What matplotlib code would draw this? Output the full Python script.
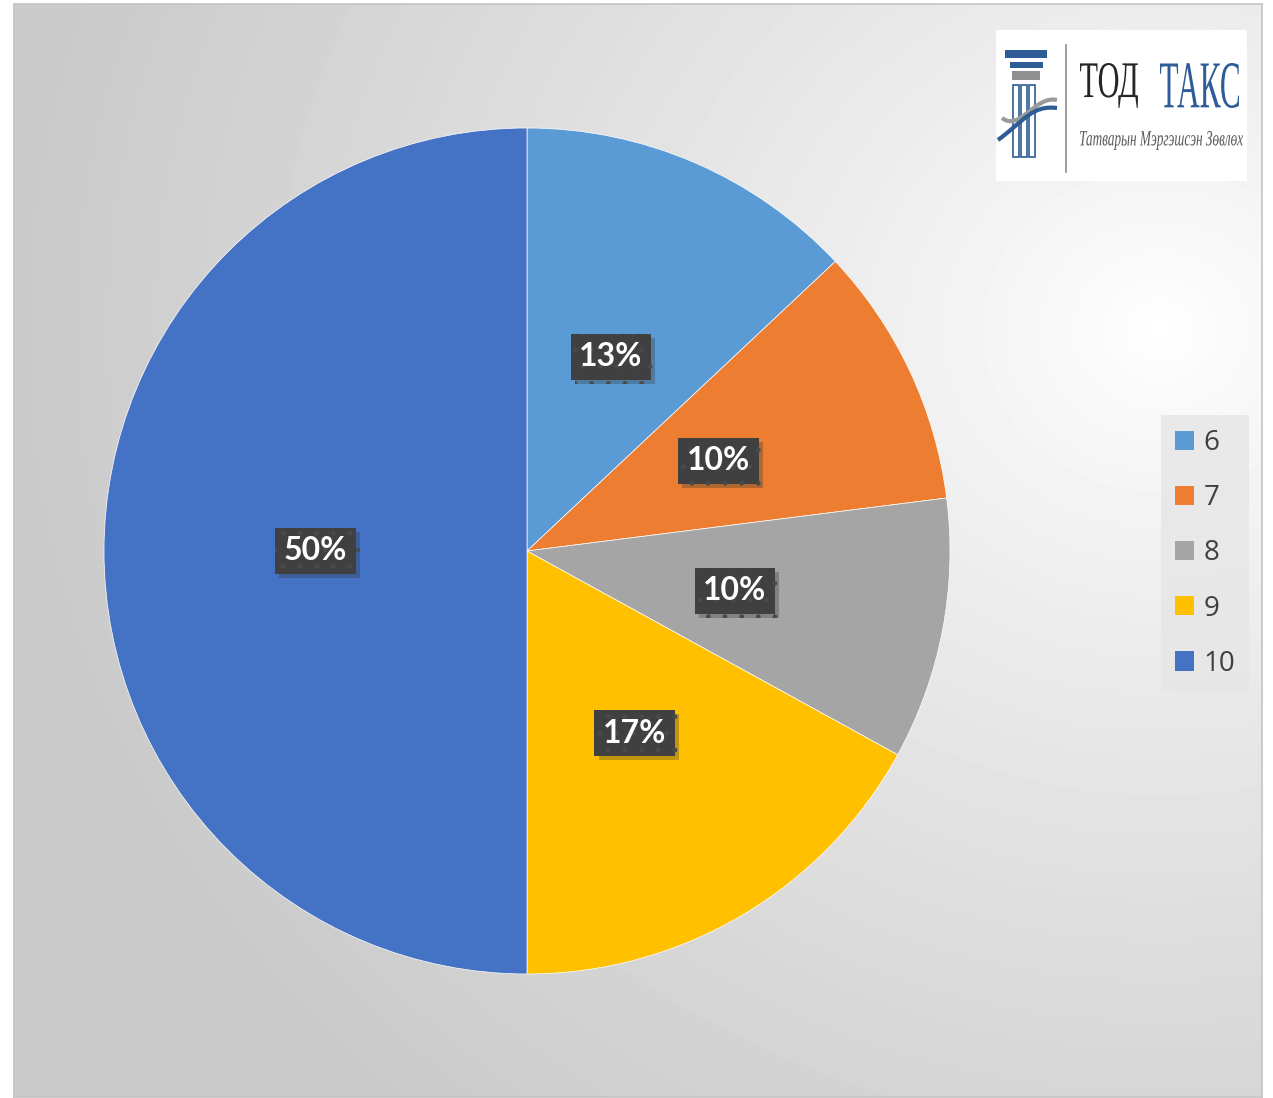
import matplotlib

matplotlib.use("Agg")
import matplotlib.pyplot as plt
import matplotlib.patheffects as pe
import numpy as np
from matplotlib.font_manager import FontProperties
from matplotlib.patches import PathPatch, Rectangle
from matplotlib.path import Path
from matplotlib.textpath import TextPath
from matplotlib.transforms import Affine2D

# data (percent shares)
categories = ["6", "7", "8", "9", "10"]
shares = [13, 10, 10, 17, 50]
colors = ["#5B9BD5", "#ED7D31", "#A5A5A5", "#FFC000", "#4472C4"]

logo_main = ["ТОД", "ТАКС"]
logo_sub = "Татварын Мэргэшсэн Зөвлөх"

W, H = 1273, 1098
fig = plt.figure(figsize=(W / 100, H / 100), dpi=100)
fig.patch.set_facecolor("white")


def fig_rect(x0, y0, x1, y1):
    """pixel box (top-left origin) -> figure fraction rect"""
    return [x0 / W, 1 - y1 / H, (x1 - x0) / W, (y1 - y0) / H]


# --- background with radial gradient ---
bx0, by0, bx1, by1 = 14, 4, 1262, 1097
bg = fig.add_axes(fig_rect(bx0, by0, bx1, by1))
yy, xx = np.mgrid[by0:by1, bx0:bx1]
dist = np.hypot((xx - 1160) * 1.0, (yy - 330) * 1.1)
t = np.clip(dist / 1150, 0, 1) ** 0.85
grey = 1 - t * (1 - 0.79)
bg.imshow(grey, cmap="gray", vmin=0, vmax=1, aspect="auto", interpolation="bilinear")
bg.set_xticks([])
bg.set_yticks([])
for s in bg.spines.values():
    s.set_color("#c4c4c4")
    s.set_linewidth(1.2)

# --- pie ---
cx, cy, r = 527, 551, 423
ax = fig.add_axes(fig_rect(cx - r, cy - r, cx + r, cy + r))
ax.set_facecolor("none")
wedges, texts, autotexts = ax.pie(
    shares,
    colors=colors,
    startangle=90,
    counterclock=False,
    autopct="%1.0f%%",
    pctdistance=0.5,
    wedgeprops=dict(linewidth=0.5, edgecolor="white"),
    textprops=dict(color="white", fontsize=23, fontweight="bold", family="Lato"),
)
ax.set_xlim(-1, 1)
ax.set_ylim(-1, 1)
ax.set_aspect("equal")
ax.axis("off")

for at in autotexts:
    at.set_bbox(dict(boxstyle="square,pad=0.27", facecolor="#404040",
                     edgecolor="#4a4a4a", linewidth=0, hatch="."))
    at.get_bbox_patch().set_path_effects([
        pe.withSimplePatchShadow(offset=(3, -3), shadow_rgbFace="#333333", alpha=0.3),
    ])

# --- legend ---
handles = [Rectangle((0, 0), 1, 1, facecolor=c, edgecolor="none") for c in colors]
leg = fig.legend(
    handles, categories,
    loc="upper left",
    bbox_to_anchor=(1161 / W, 1 - 415 / H),
    borderaxespad=0,
    frameon=True,
    fancybox=False,
    handlelength=0.68,
    handleheight=0.68,
    handletextpad=0.35,
    labelspacing=0.98,
    borderpad=0.5,
    prop=dict(family="Open Sans", size=20),
)
leg.get_frame().set_facecolor("#e6e6e6")
leg.get_frame().set_edgecolor("none")
leg.get_frame().set_alpha(0.8)
for txt in leg.get_texts():
    txt.set_color("#404040")

# --- logo ---
ov = fig.add_axes([0, 0, 1, 1])
ov.set_xlim(0, W)
ov.set_ylim(H, 0)
ov.axis("off")
ov.add_patch(Rectangle((996, 30), 251, 151, facecolor="white", edgecolor="none"))


def fit_text(s, x0, x1, ytop, ybot, color, family, style="normal"):
    tp = TextPath((0, 0), s, size=100, prop=FontProperties(family=family, style=style))
    ext = tp.get_extents()
    sx = (x1 - x0) / ext.width
    sy = (ybot - ytop) / ext.height
    tr = Affine2D().translate(-ext.x0, -ext.y0).scale(sx, -sy).translate(x0, ybot)
    ov.add_patch(PathPatch(tr.transform_path(tp), facecolor=color, edgecolor="none"))


fit_text(logo_main[0], 1080, 1138, 63, 108, "#262626", "Liberation Serif")
fit_text(logo_main[1], 1160, 1239, 63, 108, "#2E5C97", "Liberation Serif")
fit_text(logo_sub, 1080, 1243, 131, 150, "#5a5a5a", "Liberation Serif", "italic")

# separator
ov.plot([1066, 1066], [45, 172], color="#8c8c8c", lw=1.2)

# column icon
ov.add_patch(Rectangle((1005, 50), 42, 8, facecolor="#2E5C97", edgecolor="none"))
ov.add_patch(Rectangle((1010, 62), 33, 6, facecolor="#2E5C97", edgecolor="none"))
ov.add_patch(Rectangle((1012, 71), 28, 9, facecolor="#8f8f8f", edgecolor="none"))
for x in (1013, 1021, 1029):
    ov.add_patch(Rectangle((x, 85), 6, 72, facecolor="white", edgecolor="#2E5C97", lw=1.2))
wave1 = Path([(1002, 118), (1020, 132), (1035, 95), (1057, 100)],
             [Path.MOVETO, Path.CURVE4, Path.CURVE4, Path.CURVE4])
wave2 = Path([(998, 140), (1025, 120), (1032, 105), (1057, 108)],
             [Path.MOVETO, Path.CURVE4, Path.CURVE4, Path.CURVE4])
ov.add_patch(PathPatch(wave1, facecolor="none", edgecolor="#9a9a9a", lw=3))
ov.add_patch(PathPatch(wave2, facecolor="none", edgecolor="#2E5C97", lw=3))

fig.savefig("out.png", dpi=100)
